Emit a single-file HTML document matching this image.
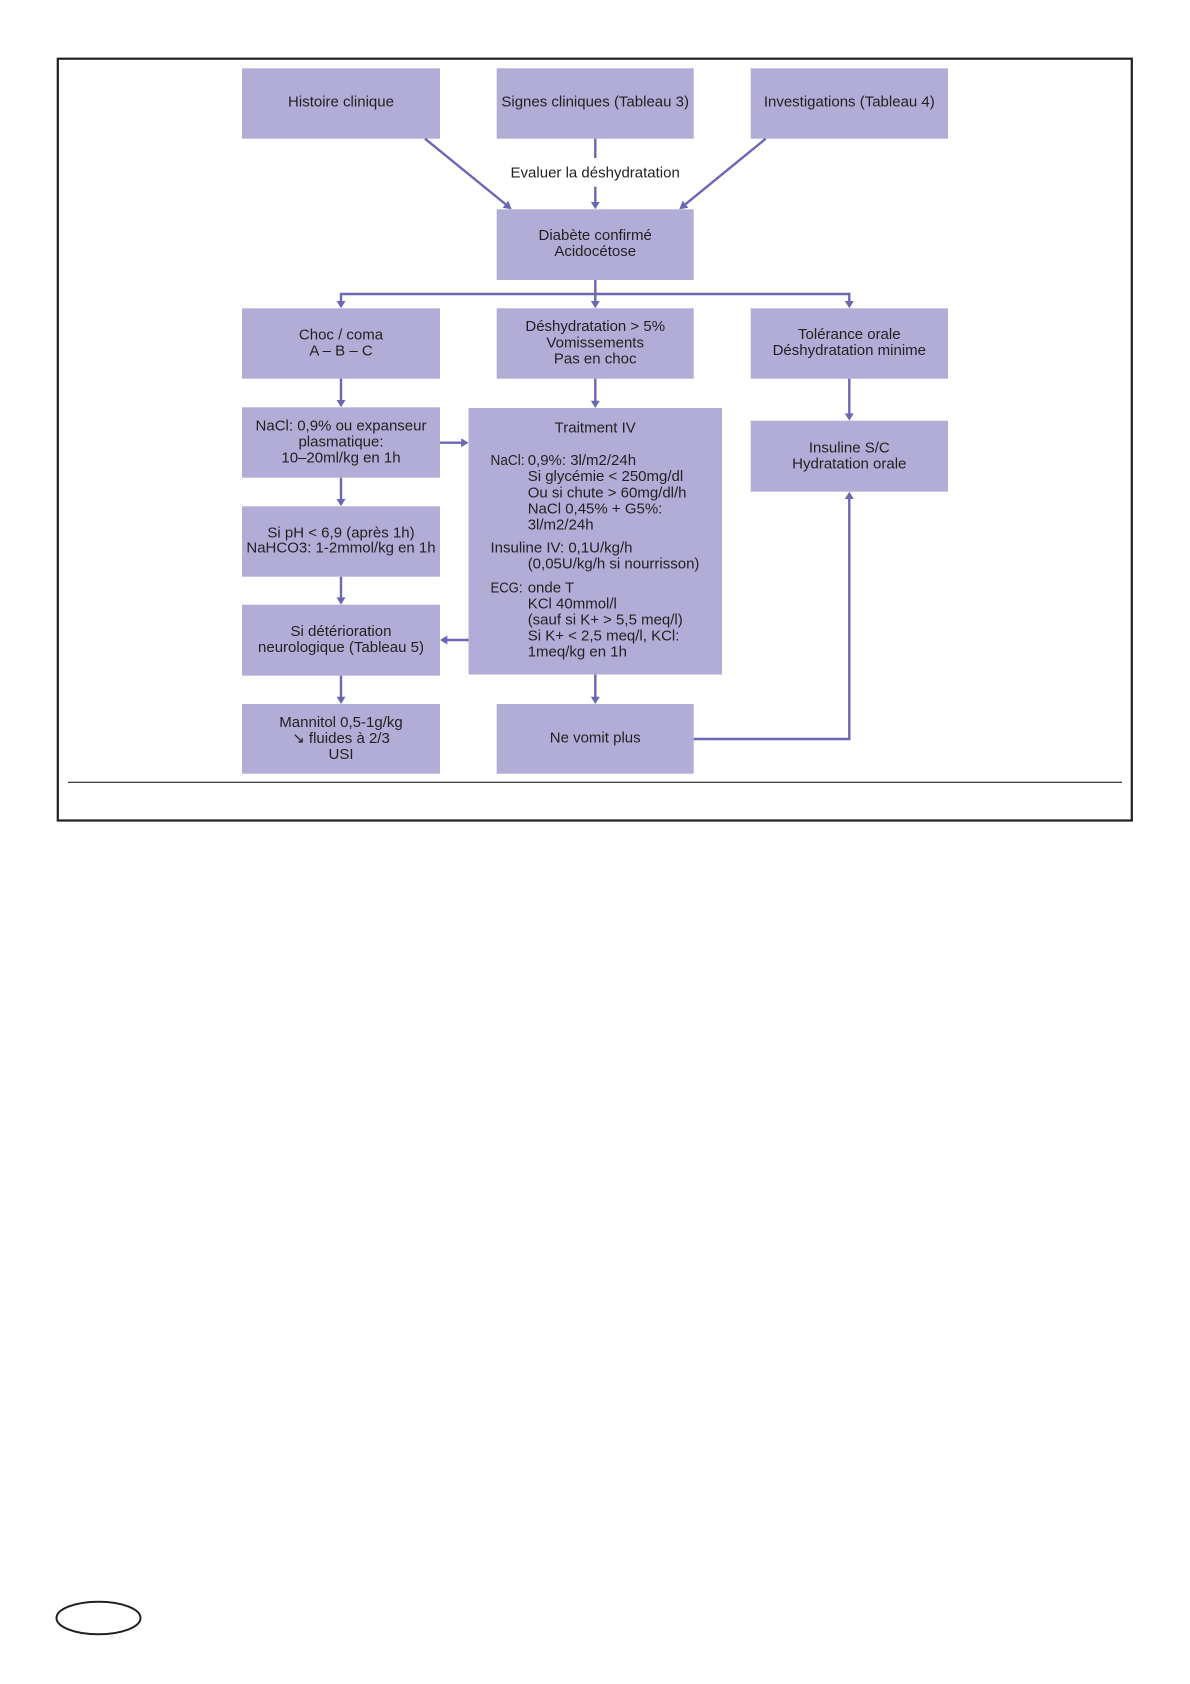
<!DOCTYPE html>
<html><head><meta charset="utf-8"><style>
html,body{margin:0;padding:0;background:#fff;}
svg{display:block;}
text{font-family:"Liberation Sans","DejaVu Sans",sans-serif;font-size:15px;fill:#231f20;}
</style></head><body>
<svg width="1190" height="1684" viewBox="0 0 1190 1684" xmlns="http://www.w3.org/2000/svg">
<rect x="0" y="0" width="1190" height="1684" fill="#fff"/>
<rect x="57.8" y="58.7" width="1074" height="761.8" fill="none" stroke="#231f20" stroke-width="2.2"/>
<line x1="68" y1="782.3" x2="1122" y2="782.3" stroke="#231f20" stroke-width="1.2"/>

<g fill="#b2add7">
<rect x="242" y="68.3" width="198" height="70.4"/>
<rect x="496.7" y="68.3" width="197" height="70.4"/>
<rect x="750.7" y="68.3" width="197.3" height="70.4"/>
<rect x="496.7" y="209.3" width="197" height="70.7"/>
<rect x="242" y="308.3" width="198" height="70.4"/>
<rect x="496.7" y="308.3" width="197" height="70.4"/>
<rect x="750.7" y="308.3" width="197.3" height="70.4"/>
<rect x="242" y="407.3" width="198" height="70.4"/>
<rect x="468.5" y="408" width="253.5" height="266.5"/>
<rect x="750.7" y="420.7" width="197.3" height="71"/>
<rect x="242" y="506.3" width="198" height="70.4"/>
<rect x="242" y="604.7" width="198" height="71"/>
<rect x="242" y="704" width="198" height="69.7"/>
<rect x="496.7" y="704" width="197" height="69.7"/>
</g>

<g stroke="#6c67b3" stroke-width="2.4" fill="none">
<line x1="425" y1="138.7" x2="505.5" y2="204.2"/>
<line x1="595.3" y1="138.7" x2="595.3" y2="158"/>
<line x1="595.3" y1="186.7" x2="595.3" y2="203"/>
<line x1="765.7" y1="138.7" x2="685.5" y2="204.2"/>
<line x1="595.3" y1="280" x2="595.3" y2="302"/>
<polyline points="341,302 341,294 849.3,294 849.3,302"/>
<line x1="341" y1="378.7" x2="341" y2="401"/>
<line x1="595.3" y1="378.7" x2="595.3" y2="402"/>
<line x1="849.3" y1="378.7" x2="849.3" y2="414.5"/>
<line x1="440" y1="442.7" x2="462" y2="442.7"/>
<line x1="341" y1="477.7" x2="341" y2="500"/>
<line x1="341" y1="576.7" x2="341" y2="598.5"/>
<line x1="468.5" y1="640" x2="446.5" y2="640"/>
<line x1="341" y1="675.7" x2="341" y2="698"/>
<line x1="595.3" y1="674.5" x2="595.3" y2="698"/>
<polyline points="693.7,739 849.3,739 849.3,498"/>
</g>

<g fill="#6c67b3">
<polygon points="511.7,209.3 502.66,207.74 508.34,200.76"/>
<polygon points="595.3,209.3 590.8,202 599.8,202"/>
<polygon points="679.3,209.3 682.65,200.76 688.35,207.72"/>
<polygon points="595.3,308.3 590.8,301 599.8,301"/>
<polygon points="341,308.3 336.5,301 345.5,301"/>
<polygon points="849.3,308.3 844.8,301 853.8,301"/>
<polygon points="341,407.3 336.5,400 345.5,400"/>
<polygon points="595.3,408 590.8,400.7 599.8,400.7"/>
<polygon points="849.3,420.7 844.8,413.4 853.8,413.4"/>
<polygon points="468.5,442.7 461.2,438.2 461.2,447.2"/>
<polygon points="341,506.3 336.5,499 345.5,499"/>
<polygon points="341,604.7 336.5,597.4 345.5,597.4"/>
<polygon points="440,640 447.3,635.5 447.3,644.5"/>
<polygon points="341,704 336.5,696.7 345.5,696.7"/>
<polygon points="595.3,704 590.8,696.7 599.8,696.7"/>
<polygon points="849.3,491.7 844.8,499 853.8,499"/>
</g>

<g text-anchor="middle">
<text x="341" y="106.7">Histoire clinique</text>
<text x="595.2" y="106.7">Signes cliniques (Tableau 3)</text>
<text x="849.3" y="106.7">Investigations (Tableau 4)</text>
<text x="595.2" y="177.7">Evaluer la déshydratation</text>
<text x="595.2" y="240">Diabète confirmé</text>
<text x="595.2" y="256">Acidocétose</text>
<text x="341" y="339.3">Choc / coma</text>
<text x="341" y="355.7">A – B – C</text>
<text x="595.2" y="331">Déshydratation &gt; 5%</text>
<text x="595.2" y="347.3">Vomissements</text>
<text x="595.2" y="363.7">Pas en choc</text>
<text x="849.3" y="339">Tolérance orale</text>
<text x="849.3" y="355">Déshydratation minime</text>
<text x="341" y="430.7">NaCl: 0,9% ou expanseur</text>
<text x="341" y="446.7">plasmatique:</text>
<text x="341" y="462.7">10–20ml/kg en 1h</text>
<text x="595.2" y="432.3">Traitment IV</text>
<text x="849.3" y="452.3">Insuline S/C</text>
<text x="849.3" y="468.3">Hydratation orale</text>
<text x="341" y="537.3">Si pH &lt; 6,9 (après 1h)</text>
<text x="341" y="552.7">NaHCO3: 1-2mmol/kg en 1h</text>
<text x="341" y="636">Si détérioration</text>
<text x="341" y="652">neurologique (Tableau 5)</text>
<text x="341" y="727">Mannitol 0,5-1g/kg</text>
<text x="341" y="743">↘ fluides à 2/3</text>
<text x="341" y="759">USI</text>
<text x="595.2" y="742.3">Ne vomit plus</text>
</g>

<g>
<text x="490.5" y="465" textLength="34" lengthAdjust="spacingAndGlyphs">NaCl:</text>
<text x="527.7" y="465">0,9%: 3l/m2/24h</text>
<text x="527.7" y="481">Si glycémie &lt; 250mg/dl</text>
<text x="527.7" y="497.3">Ou si chute &gt; 60mg/dl/h</text>
<text x="527.7" y="513.3">NaCl 0,45% + G5%:</text>
<text x="527.7" y="529.3">3l/m2/24h</text>
<text x="490.5" y="552.7">Insuline IV: 0,1U/kg/h</text>
<text x="527.7" y="568.7">(0,05U/kg/h si nourrisson)</text>
<text x="490.5" y="592.3" textLength="32" lengthAdjust="spacingAndGlyphs">ECG:</text>
<text x="527.7" y="592.3">onde T</text>
<text x="527.7" y="608.7">KCl 40mmol/l</text>
<text x="527.7" y="624.7">(sauf si K+ &gt; 5,5 meq/l)</text>
<text x="527.7" y="640.3">Si K+ &lt; 2,5 meq/l, KCl:</text>
<text x="527.7" y="656.3">1meq/kg en 1h</text>
</g>

<ellipse cx="98.5" cy="1618" rx="42" ry="16.3" fill="none" stroke="#231f20" stroke-width="2"/>
</svg>
</body></html>
